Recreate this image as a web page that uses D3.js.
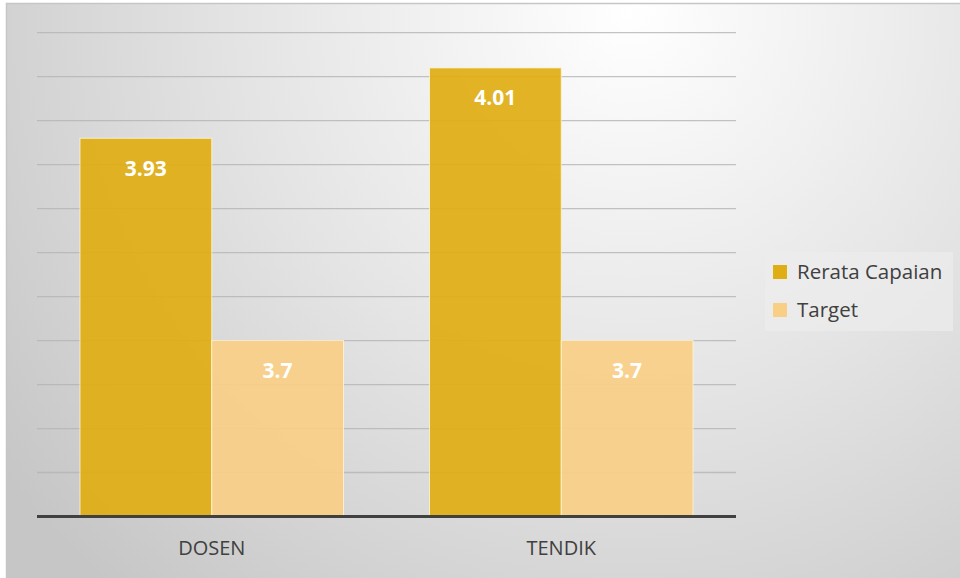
<!DOCTYPE html>
<html>
<head>
<meta charset="utf-8">
<script src="https://cdn.jsdelivr.net/npm/d3@7"></script>
<style>
  html, body { margin: 0; padding: 0; background: #fff; }
  svg { display: block; }
</style>
</head>
<body>
<div id="chart"></div>
<script>
// data
const categories = ["DOSEN", "TENDIK"];
const seriesNames = ["Rerata Capaian", "Target"];
const capaian = [3.93, 4.01];
const target = [3.7, 3.7];
const yTicks = [3.5, 3.55, 3.6, 3.65, 3.7, 3.75, 3.8, 3.85, 3.9, 3.95, 4.0, 4.05];

const width = 960, height = 578;
const colors = ["#dfad14", "#f9cf86"];

const svg = d3.select("#chart").append("svg")
    .attr("width", width)
    .attr("height", height);

const defs = svg.append("defs");
const grad = defs.append("radialGradient")
    .attr("id", "bg")
    .attr("gradientUnits", "userSpaceOnUse")
    .attr("cx", 630).attr("cy", 10).attr("r", 780);
grad.append("stop").attr("offset", "0").attr("stop-color", "#ffffff");
grad.append("stop").attr("offset", "0.5").attr("stop-color", "#e4e4e4");
grad.append("stop").attr("offset", "1").attr("stop-color", "#c6c6c6");

svg.append("rect")
    .attr("x", 6.5).attr("y", 3.5)
    .attr("width", width).attr("height", height)
    .attr("fill", "url(#bg)")
    .attr("stroke", "#c6c6c6")
    .attr("stroke-width", 1.5);

const plot = {left: 37, right: 736, top: 32.7, bottom: 516.5};

const x0 = d3.scaleBand()
    .domain(categories)
    .range([plot.left, plot.right])
    .paddingInner(0.246)
    .paddingOuter(0.123);

const x1 = d3.scaleBand()
    .domain(seriesNames)
    .range([0, x0.bandwidth()]);

const y = d3.scaleLinear()
    .domain([3.5, 4.05])
    .range([plot.bottom, plot.top]);

// gridlines
svg.append("g")
    .selectAll("line")
    .data(yTicks.slice(1))
    .join("line")
    .attr("x1", plot.left)
    .attr("x2", plot.right)
    .attr("y1", d => y(d))
    .attr("y2", d => y(d))
    .attr("stroke", "#b4b4b4")
    .attr("stroke-opacity", 0.8)
    .attr("stroke-width", 1.3);

const rows = categories.map((c, i) => ({cat: c, vals: [capaian[i], target[i]]}));

const group = svg.append("g")
    .selectAll("g")
    .data(rows)
    .join("g")
    .attr("transform", d => `translate(${x0(d.cat)},0)`);

const bars = group.selectAll("g")
    .data(d => d.vals.map((v, j) => ({name: seriesNames[j], value: v, j: j})))
    .join("g");

bars.append("rect")
    .attr("x", d => x1(d.name))
    .attr("y", d => y(d.value))
    .attr("width", x1.bandwidth())
    .attr("height", d => y.range()[0] - y(d.value))
    .attr("fill", d => colors[d.j])
    .attr("fill-opacity", 0.93)
    .attr("stroke", "#fff6d8")
    .attr("stroke-opacity", 0.8)
    .attr("stroke-width", 1);

bars.append("text")
    .attr("x", d => x1(d.name) + x1.bandwidth() / 2)
    .attr("y", d => y(d.value) + 30)
    .attr("dy", "0.35em")
    .attr("text-anchor", "middle")
    .style("font", "bold 21px 'Open Sans', sans-serif")
    .attr("fill", "#ffffff")
    .text(d => d.value);

// x axis line
svg.append("line")
    .attr("x1", plot.left).attr("x2", plot.right)
    .attr("y1", plot.bottom).attr("y2", plot.bottom)
    .attr("stroke", "#404040")
    .attr("stroke-width", 3);

svg.append("g")
    .selectAll("text")
    .data(categories)
    .join("text")
    .attr("x", d => x0(d) + x0.bandwidth() / 2)
    .attr("y", 548)
    .attr("dy", "0.35em")
    .attr("text-anchor", "middle")
    .style("font", "20px 'Open Sans', sans-serif")
    .attr("fill", "#404040")
    .text(d => d);

// legend
const legend = svg.append("g").attr("transform", "translate(765,252)");
legend.append("rect")
    .attr("width", 188).attr("height", 79)
    .attr("fill", "#ececec")
    .attr("fill-opacity", 0.7);

const item = legend.selectAll("g")
    .data(seriesNames)
    .join("g")
    .attr("transform", (d, i) => `translate(8,${13 + i * 38})`);

item.append("rect")
    .attr("width", 14).attr("height", 14)
    .attr("fill", (d, i) => colors[i]);

item.append("text")
    .attr("x", 24)
    .attr("y", 7)
    .attr("dy", "0.35em")
    .style("font", "20.5px 'Open Sans', sans-serif")
    .attr("fill", "#404040")
    .text(d => d);
</script>
</body>
</html>
